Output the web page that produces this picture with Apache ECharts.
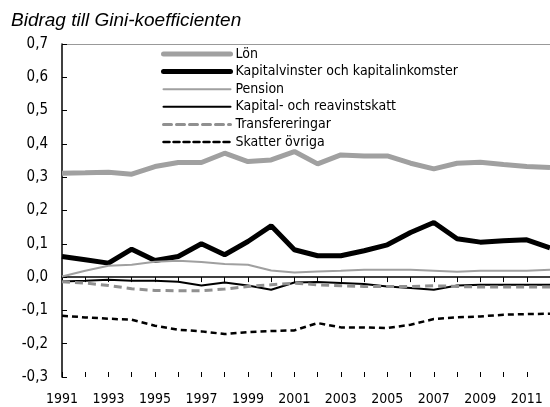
<!DOCTYPE html>
<html>
<head>
    <meta charset='UTF-8'>
    <script src="https://cdn.jsdelivr.net/npm/echarts@6/dist/echarts.min.js"></script>
    <style>
        html, body { margin: 0; padding: 0; background: #fff; }
        #chart { width: 550px; height: 407px; }
    </style>
    <title>Gini</title>
</head>
<body>
    <div id="chart"></div>
    <script>
        // data
        var years = ['1991', '1992', '1993', '1994', '1995', '1996', '1997', '1998', '1999', '2000', '2001',
            '2002', '2003', '2004', '2005', '2006', '2007', '2008', '2009', '2010', '2011', '2012'];
        var lon = [0.312, 0.313, 0.315, 0.309, 0.332, 0.344, 0.344, 0.372, 0.347, 0.352, 0.377,
            0.340, 0.367, 0.364, 0.364, 0.342, 0.325, 0.342, 0.345, 0.338, 0.332, 0.329];
        var kapital = [0.062, 0.052, 0.042, 0.084, 0.050, 0.062, 0.100, 0.067, 0.107, 0.154, 0.082,
            0.064, 0.064, 0.079, 0.097, 0.134, 0.164, 0.115, 0.105, 0.109, 0.112, 0.088];
        var pension = [0.002, 0.019, 0.034, 0.037, 0.046, 0.049, 0.045, 0.039, 0.037, 0.020, 0.014,
            0.017, 0.019, 0.022, 0.022, 0.022, 0.019, 0.016, 0.019, 0.019, 0.019, 0.022];
        var reaskatt = [-0.013, -0.011, -0.008, -0.011, -0.011, -0.014, -0.025, -0.016, -0.025, -0.038, -0.016,
            -0.015, -0.018, -0.021, -0.028, -0.033, -0.038, -0.025, -0.023, -0.023, -0.023, -0.023];
        var transf = [-0.014, -0.018, -0.025, -0.035, -0.040, -0.041, -0.041, -0.036, -0.028, -0.023, -0.018,
            -0.023, -0.026, -0.028, -0.028, -0.028, -0.026, -0.028, -0.030, -0.030, -0.030, -0.030];
        var ovriga = [-0.116, -0.121, -0.125, -0.128, -0.146, -0.158, -0.163, -0.171, -0.165, -0.162, -0.160,
            -0.138, -0.151, -0.151, -0.153, -0.143, -0.126, -0.121, -0.118, -0.113, -0.111, -0.110];

        var narrow = "'Liberation Sans Narrow', 'DejaVu Sans Condensed', sans-serif";

        var myChart = echarts.init(document.getElementById('chart'), null, { renderer: 'canvas' });

        function line(name, data, color, width, type) {
            return {
                name: name,
                type: 'line',
                data: data,
                symbol: 'none',
                xAxisIndex: 0,
                lineStyle: { color: color, width: width, type: type || 'solid' },
                itemStyle: { color: color },
                emphasis: { disabled: true }
            };
        }

        var option = {
            animation: false,
            backgroundColor: '#fff',
            title: {
                text: 'Bidrag till Gini-koefficienten',
                left: 6,
                top: 6,
                textStyle: {
                    fontFamily: "'Liberation Sans', Arial, sans-serif",
                    fontStyle: 'italic',
                    fontWeight: 'normal',
                    fontSize: 19,
                    color: '#000'
                }
            },
            legend: {
                orient: 'vertical',
                left: 156,
                top: 42,
                itemWidth: 67,
                itemHeight: 14,
                itemGap: 3.6,
                selectedMode: false,
                itemStyle: { opacity: 0 },
                lineStyle: { width: 'inherit', cap: 'round' },
                textStyle: { fontFamily: narrow, fontSize: 14, color: '#000' },
                data: ['Lön', 'Kapitalvinster och kapitalinkomster', 'Pension',
                    'Kapital- och reavinstskatt', 'Transfereringar', 'Skatter övriga']
            },
            grid: {
                left: 62,
                right: -9,
                top: 44,
                bottom: 30
            },
            xAxis: [{
                type: 'category',
                position: 'bottom',
                boundaryGap: false,
                data: years,
                axisLine: { lineStyle: { color: '#000', width: 1.5 } },
                axisTick: { interval: 0, length: 5, lineStyle: { color: '#000' } },
                axisLabel: {
                    interval: 1,
                    margin: 15,
                    fontFamily: narrow,
                    fontSize: 14,
                    color: '#000'
                },
                splitLine: { show: false }
            }, {
                type: 'category',
                position: 'bottom',
                boundaryGap: false,
                data: years,
                axisLine: { show: false },
                axisTick: { interval: 0, inside: true, length: 5, lineStyle: { color: '#000' } },
                axisLabel: { show: false },
                splitLine: { show: false }
            }, {
                type: 'category',
                position: 'top',
                boundaryGap: false,
                data: years,
                axisLine: { lineStyle: { color: '#999', width: 1 } },
                axisTick: { show: false },
                axisLabel: { show: false },
                splitLine: { show: false }
            }],
            yAxis: {
                type: 'value',
                min: -0.3,
                max: 0.7,
                interval: 0.1,
                axisLine: { show: true, lineStyle: { color: '#000', width: 1.5 } },
                axisTick: { show: true, inside: true, length: 5, lineStyle: { color: '#000' } },
                axisLabel: {
                    margin: 14,
                    fontFamily: narrow,
                    fontSize: 15,
                    color: '#000',
                    formatter: function (v) {
                        return (Math.round(v * 10) / 10).toFixed(1).replace('.', ',');
                    }
                },
                splitLine: { show: false }
            },
            series: [
                line('Lön', lon, '#a0a0a0', 5),
                line('Kapitalvinster och kapitalinkomster', kapital, '#000', 5),
                line('Pension', pension, '#a0a0a0', 2),
                line('Kapital- och reavinstskatt', reaskatt, '#000', 2),
                line('Transfereringar', transf, '#909090', 3, [8, 5]),
                line('Skatter övriga', ovriga, '#000', 2.5, [6, 4])
            ]
        };

        myChart.setOption(option);
    </script>
</body>
</html>
